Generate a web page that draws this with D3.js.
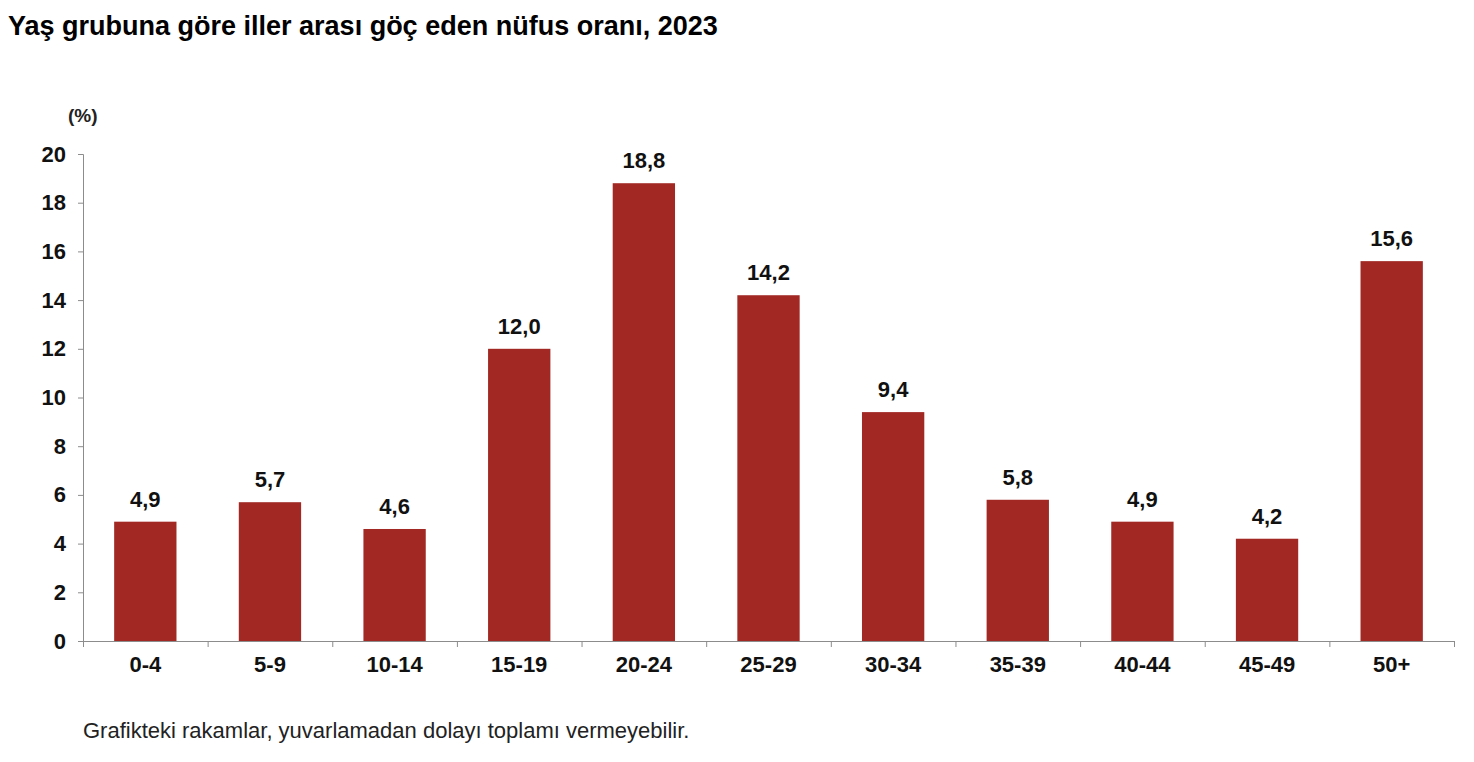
<!DOCTYPE html>
<html>
<head>
<meta charset="utf-8">
<script src="https://cdn.jsdelivr.net/npm/d3@7"></script>
<style>
    body { margin: 0; background: #fff; font-family: "Liberation Sans", Arial, sans-serif; }
    .tick text { font-family: "Liberation Sans", Arial, sans-serif; font-weight: bold; fill: #111; }
</style>
</head>
<body>
<script>
// chart data
var ageGroups = ["0-4", "5-9", "10-14", "15-19", "20-24", "25-29", "30-34", "35-39", "40-44", "45-49", "50+"];
var shares = [4.9, 5.7, 4.6, 12.0, 18.8, 14.2, 9.4, 5.8, 4.9, 4.2, 15.6];
var yTicks = [0, 2, 4, 6, 8, 10, 12, 14, 16, 18, 20];

var width = 1474,
    height = 762,
    plotLeft = 83,
    plotRight = 1454,
    plotTop = 154,
    plotBottom = 641,
    barColor = "#a12823",
    axisColor = "#8c8c8c";

var svg = d3.select("body")
    .append("svg")
    .attr("width", width)
    .attr("height", height);

var x = d3.scaleBand()
    .domain(ageGroups)
    .range([plotLeft, plotRight])
    .paddingInner(0.5)
    .paddingOuter(0.25);

var y = d3.scaleLinear()
    .domain([0, 20])
    .range([plotBottom, plotTop]);

function fmt(v){
    return v.toFixed(1).replace(".", ",");
}

// title
svg.append("text")
    .attr("x", 8)
    .attr("y", 35)
    .attr("font-size", 27)
    .attr("font-weight", "bold")
    .attr("fill", "#000")
    .text("Yaş grubuna göre iller arası göç eden nüfus oranı, 2023");

svg.append("text")
    .attr("x", 68)
    .attr("y", 122)
    .attr("font-size", 19)
    .attr("font-weight", "bold")
    .attr("fill", "#222")
    .text("(%)");

// bars
svg.selectAll(".bar")
    .data(shares)
    .enter()
    .append("rect")
    .attr("class", "bar")
    .attr("x", (d, i) => x(ageGroups[i]))
    .attr("width", x.bandwidth())
    .attr("y", d => y(d))
    .attr("height", d => y(0) - y(d))
    .attr("fill", barColor);

// value labels
svg.selectAll(".val")
    .data(shares)
    .enter()
    .append("text")
    .attr("class", "val")
    .attr("x", (d, i) => x(ageGroups[i]) + x.bandwidth() / 2)
    .attr("y", d => y(d) - 15)
    .attr("text-anchor", "middle")
    .attr("font-size", 22)
    .attr("font-weight", "bold")
    .attr("fill", "#111")
    .text(fmt);

// y axis
var yAxis = svg.append("g")
    .attr("transform", "translate(" + plotLeft + ",0)")
    .call(d3.axisLeft(y).tickValues(yTicks).tickSize(5).tickPadding(12).tickFormat(d3.format("d")));
yAxis.selectAll("line, path").attr("stroke", axisColor);
yAxis.selectAll("text").attr("font-size", 22);

// x axis, ticks between categories
var xAxis = svg.append("g")
    .attr("transform", "translate(0," + plotBottom + ")")
    .call(d3.axisBottom(x).tickSize(0).tickPadding(15));
xAxis.select("path").attr("stroke", axisColor).attr("d", "M" + plotLeft + ",0.5H" + plotRight);
xAxis.selectAll("text").attr("font-size", 22);

var step = x.step();
svg.selectAll(".sep")
    .data(d3.range(ageGroups.length + 1))
    .enter()
    .append("line")
    .attr("class", "sep")
    .attr("x1", i => plotLeft + i * step + 0.5)
    .attr("x2", i => plotLeft + i * step + 0.5)
    .attr("y1", plotBottom)
    .attr("y2", plotBottom + 6)
    .attr("stroke", axisColor);

// footnote
svg.append("text")
    .attr("x", 83)
    .attr("y", 738)
    .attr("font-size", 22)
    .attr("fill", "#222")
    .text("Grafikteki rakamlar, yuvarlamadan dolayı toplamı vermeyebilir.");
</script>
</body>
</html>
